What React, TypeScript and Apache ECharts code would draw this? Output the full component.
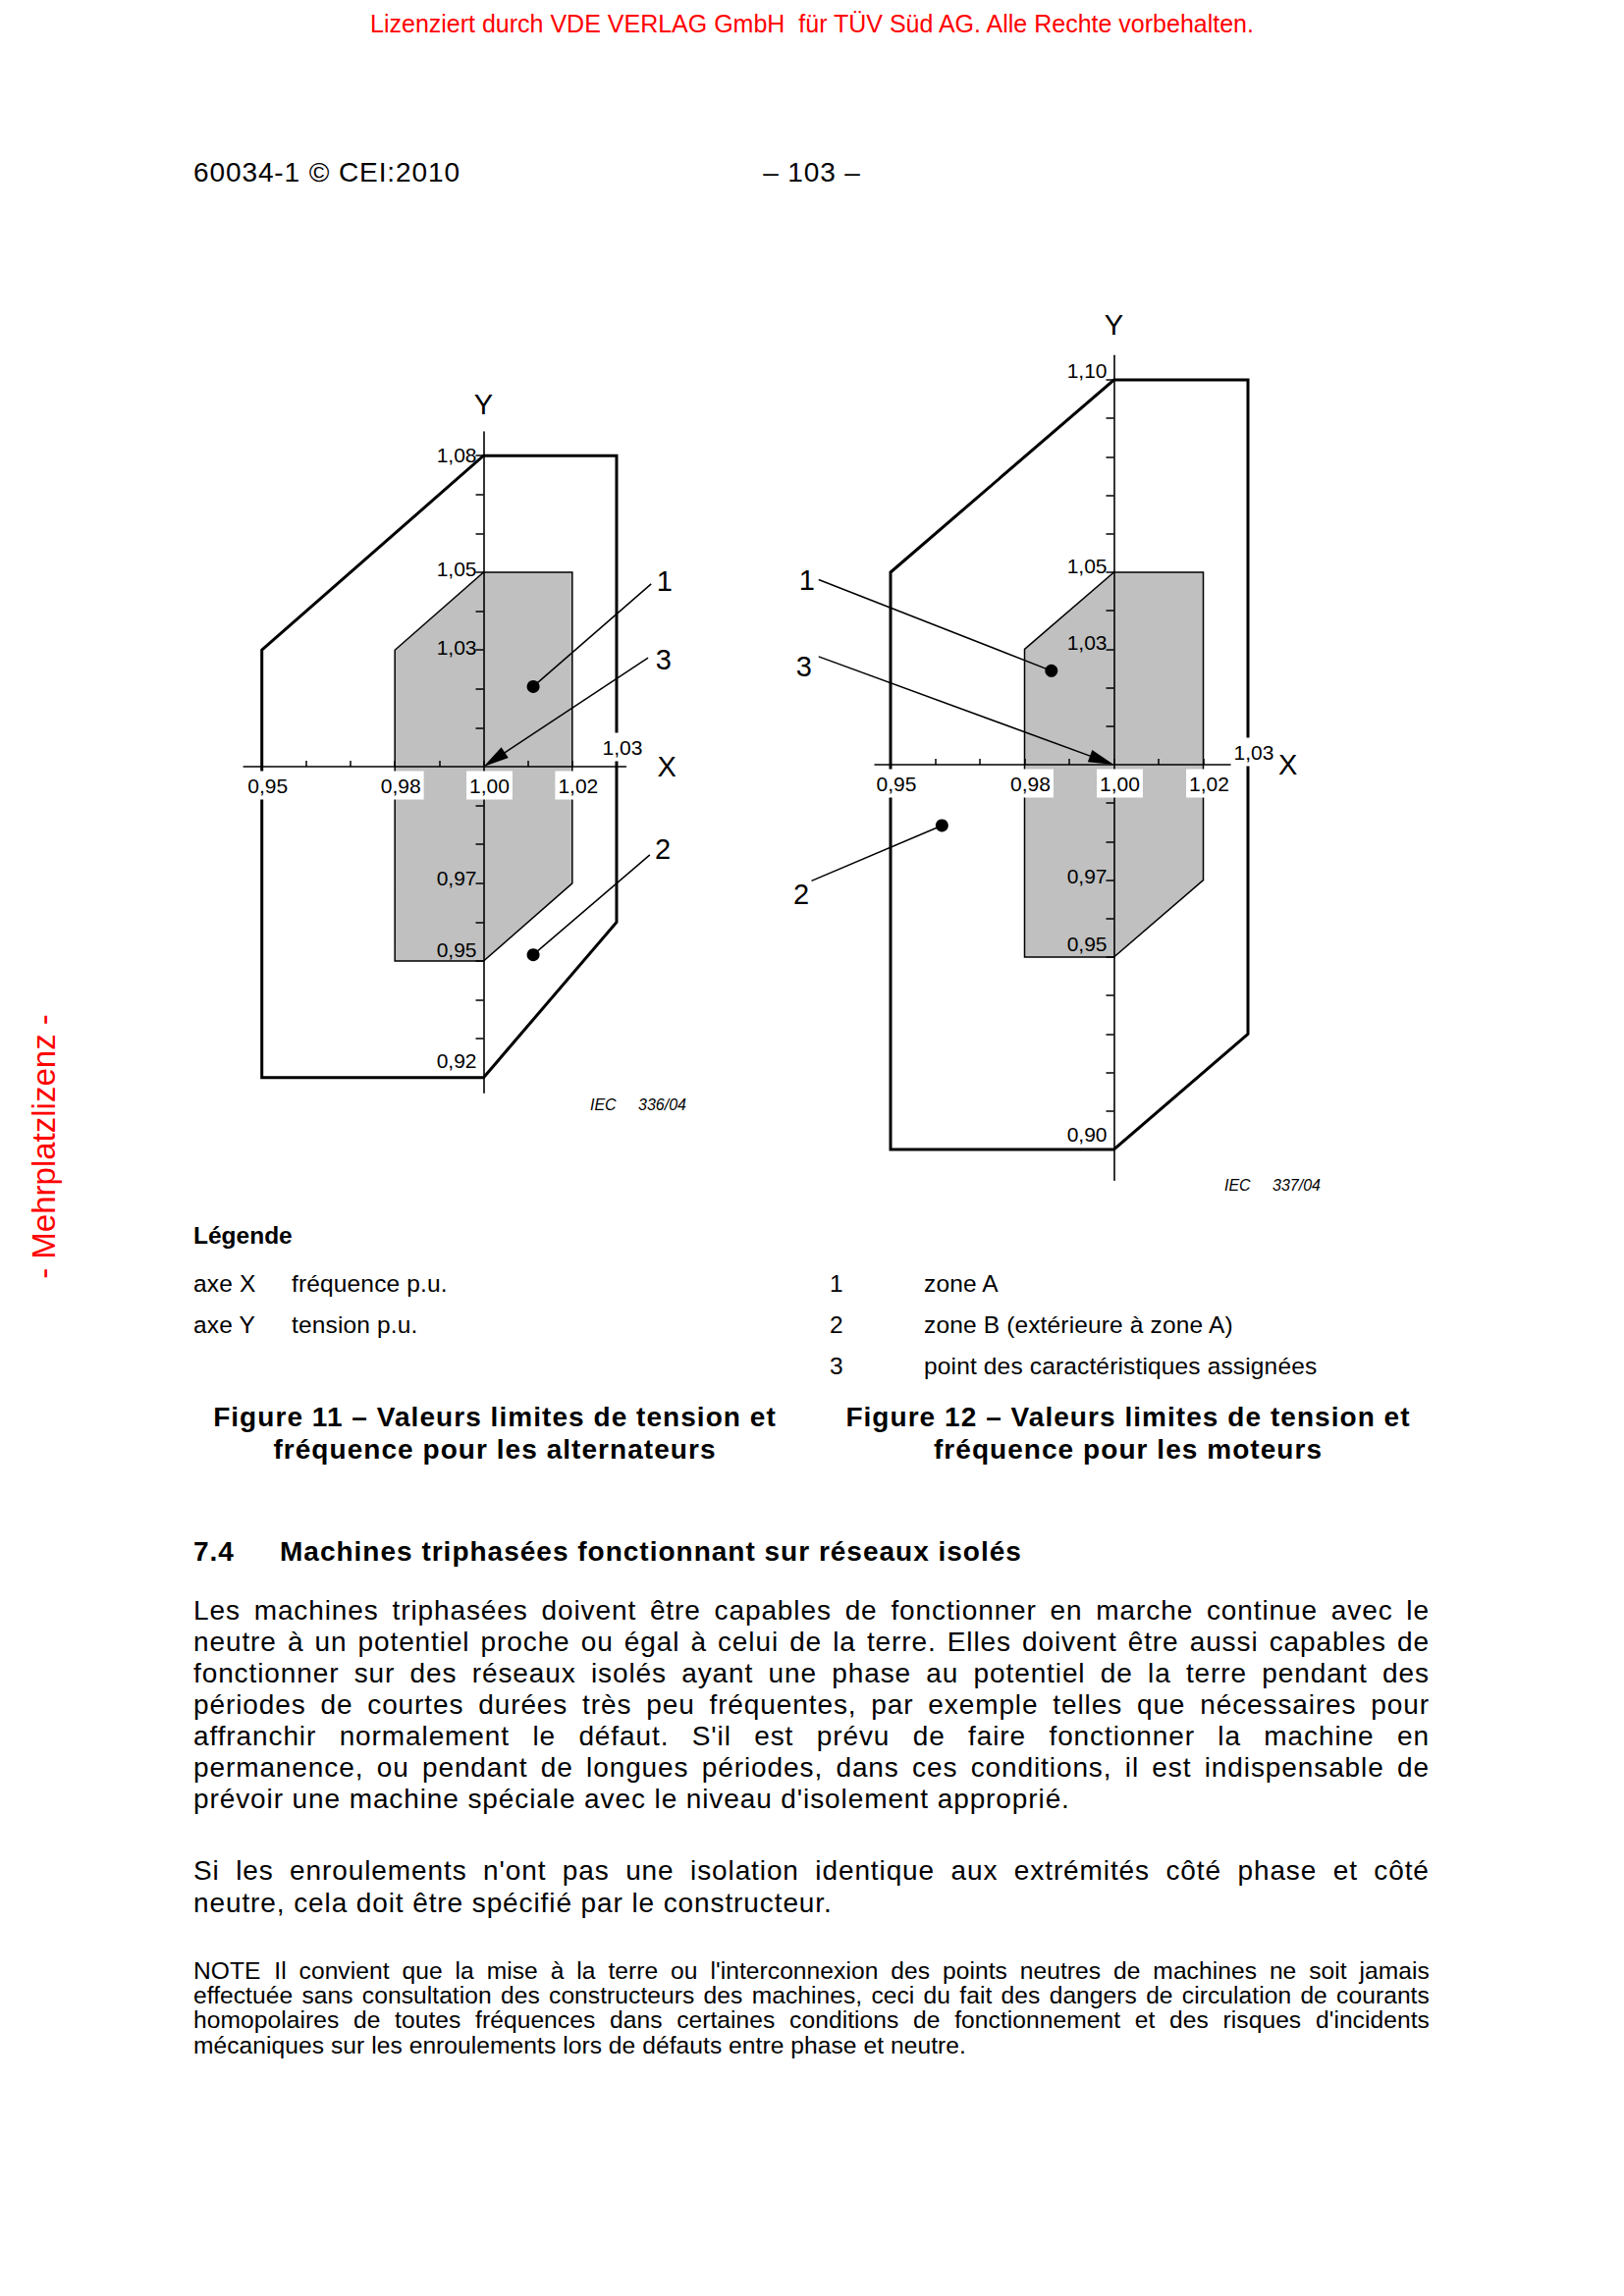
import React, { useEffect, useRef } from 'react';
import * as echarts from 'echarts';

// ---------------- Figure 11 : alternateurs ----------------
const fig11ZoneB: number[][] = [[0.95, 1.03], [1.0, 1.08], [1.03, 1.08], [1.03, 0.96], [1.0, 0.92], [0.95, 0.92]];
const fig11ZoneA: number[][] = [[0.98, 1.03], [1.0, 1.05], [1.02, 1.05], [1.02, 0.97], [1.0, 0.95], [0.98, 0.95]];
const fig11XRange = [0.9459, 1.0321];
const fig11YRange = [0.9161, 1.0861];
const fig11XTicks = [0.95, 0.96, 0.97, 0.98, 0.99, 1.0, 1.01, 1.02, 1.03];
const fig11XLabels = [0.95, 0.98, 1.0, 1.02];
const fig11XLabelsTop = [1.03];
const fig11YTicks = [0.92, 0.93, 0.94, 0.95, 0.96, 0.97, 0.98, 0.99, 1.01, 1.02, 1.03, 1.04, 1.05, 1.06, 1.07, 1.08];
const fig11YLabels = [1.08, 1.05, 1.03, 0.97, 0.95, 0.92];
// [labelX, labelY, lineStartX, lineStartY, targetX, targetY, kind (0 dot / 1 arrow), number]
const fig11Callouts: number[][] = [
  [1.0408, 1.0478, 1.0378, 1.047, 1.0112, 1.0206, 0, 1],
  [1.0406, 1.0276, 1.0371, 1.028, 1.0, 1.0, 1, 3],
  [1.0404, 0.9788, 1.0375, 0.9773, 1.0112, 0.9516, 0, 2],
];

// ---------------- Figure 12 : moteurs ----------------
const fig12ZoneB: number[][] = [[0.95, 1.05], [1.0, 1.1], [1.03, 1.1], [1.03, 0.93], [1.0, 0.9], [0.95, 0.9]];
const fig12ZoneA: number[][] = [[0.98, 1.03], [1.0, 1.05], [1.02, 1.05], [1.02, 0.97], [1.0, 0.95], [0.98, 0.95]];
const fig12XRange = [0.9465, 1.0353];
const fig12YRange = [0.892, 1.1063];
const fig12XTicks = [0.95, 0.96, 0.97, 0.98, 0.99, 1.0, 1.01, 1.02, 1.03];
const fig12XLabels = [0.95, 0.98, 1.0, 1.02];
const fig12XLabelsTop = [1.03];
const fig12YTicks = [0.9, 0.91, 0.92, 0.93, 0.94, 0.95, 0.96, 0.97, 0.98, 0.99, 1.01, 1.02, 1.03, 1.04, 1.05, 1.06, 1.07, 1.08, 1.09, 1.1];
const fig12YLabels = [1.1, 1.05, 1.03, 0.97, 0.95, 0.9];
const fig12Callouts: number[][] = [
  [0.9313, 1.048, 0.9339, 1.0481, 0.986, 1.0244, 0, 1],
  [0.9306, 1.0254, 0.9339, 1.0281, 1.0, 1.0, 1, 3],
  [0.93, 0.9663, 0.9323, 0.9698, 0.9615, 0.9842, 0, 2],
];

// ---------------- layout / style (not data) ----------------
const FONT = 'Liberation Sans';
const FONT_CSS = "'Liberation Sans', Arial, Helvetica, sans-serif";
const L11 = { ox: 492.5, oy: 781, sx: 4516, sy: 3960, xNameGap: 32, yNameGap: 14, topMargin: 8, yLift: [1, 4, 3, 5, 12, 17] };
const L12 = { ox: 1134.5, oy: 779, sx: 4550, sy: 3920, xNameGap: 7, yNameGap: 17, topMargin: 1, yLift: [10, 7, 7, 4, 14, 16] };

const fmt = (v: number) => Number(v).toFixed(2).replace('.', ',');

function buildFigure(idx: number, L: any, xr: number[], yr: number[], xTicks: number[], xLabels: number[], xTop: number[], yTicks: number[], yLabels: number[], zoneB: number[][], zoneA: number[][], callouts: number[][]) {
  const left = L.ox - (1 - xr[0]) * L.sx;
  const width = (xr[1] - xr[0]) * L.sx;
  const top = L.oy - (yr[1] - 1) * L.sy;
  const height = (yr[1] - yr[0]) * L.sy;
  const grid = { left, top, width, height, containLabel: false, outerBoundsMode: 'none' };
  const lineStyle = { color: '#000', width: 1.6 };
  const xRich = {
    s: { width: 12, fontSize: 21, fontFamily: FONT },
    a: { fontSize: 21, fontFamily: FONT, color: '#000', backgroundColor: '#fff', padding: [4, 3, 4, 3], lineHeight: 24 },
  };
  const yRich: any = {};
  L.yLift.forEach((lift: number) => {
    yRich['u' + lift] = { fontSize: 21, fontFamily: FONT, color: '#000', padding: [0, 0, 2 * lift, 0], lineHeight: 24 };
  });
  const xBottom = {
    type: 'value', gridIndex: idx, min: xr[0], max: xr[1], position: 'bottom',
    offset: -((1 - yr[0]) * L.sy), z: 6,
    name: 'X', nameLocation: 'end', nameGap: L.xNameGap, nameMoveOverlap: false,
    nameTextStyle: { fontSize: 29, fontFamily: FONT, color: '#000', padding: [14, 0, 0, 0] },
    axisLine: { show: true, onZero: false, lineStyle },
    axisTick: { show: true, inside: true, length: 6, customValues: xTicks, lineStyle: { color: '#000', width: 1.5 } },
    axisLabel: { show: true, customValues: xLabels, margin: 7, formatter: (v: number) => `{s| }{a|${fmt(v)}}`, rich: xRich },
    splitLine: { show: false },
  };
  const xTopAxis = {
    type: 'value', gridIndex: idx, min: xr[0], max: xr[1], position: 'top',
    offset: -((yr[1] - 1) * L.sy), z: 6,
    axisLine: { show: false, onZero: false },
    axisTick: { show: false },
    axisLabel: { show: true, customValues: xTop, margin: L.topMargin, formatter: (v: number) => `{s| }{a|${fmt(v)}}`, rich: xRich },
    splitLine: { show: false },
  };
  const yAxis = {
    type: 'value', gridIndex: idx, min: yr[0], max: yr[1], position: 'left',
    offset: -((1 - xr[0]) * L.sx), z: 5,
    name: 'Y', nameLocation: 'end', nameGap: L.yNameGap, nameMoveOverlap: false,
    nameTextStyle: { fontSize: 29, fontFamily: FONT, color: '#000' },
    axisLine: { show: true, onZero: false, lineStyle },
    axisTick: { show: true, inside: false, length: 8, customValues: yTicks, lineStyle: { color: '#000', width: 1.5 } },
    axisLabel: {
      show: true, customValues: yLabels, margin: 7,
      formatter: (v: number) => {
        let i = yLabels.findIndex((y) => Math.abs(y - v) < 1e-6);
        if (i < 0) i = 0;
        return `{u${L.yLift[i]}|${fmt(v)}}`;
      },
      rich: yRich,
    },
    splitLine: { show: false },
  };

  const xi = idx * 2;
  const yi = idx;
  const zone = (pts: number[][], style: any, z: number) => ({
    type: 'custom', xAxisIndex: xi, yAxisIndex: yi, z, silent: true, clip: false,
    data: pts, encode: { x: 0, y: 1 },
    renderItem: (params: any, api: any) => {
      if (params.dataIndex !== 0) return null;
      return { type: 'polygon', shape: { points: pts.map((p) => api.coord(p)) }, style };
    },
  });
  const calloutSeries = {
    type: 'custom', xAxisIndex: xi, yAxisIndex: yi, z: 4, silent: true, clip: false,
    data: callouts, encode: { x: [0, 2, 4], y: [1, 3, 5] },
    renderItem: (params: any, api: any) => {
      const lab = api.coord([api.value(0), api.value(1)]);
      const p0 = api.coord([api.value(2), api.value(3)]);
      const p1 = api.coord([api.value(4), api.value(5)]);
      const kind = api.value(6);
      const num = api.value(7);
      const children: any[] = [
        { type: 'text', x: lab[0], y: lab[1], style: { text: String(num), fontSize: 29, fontFamily: FONT, fill: '#000', align: 'center', verticalAlign: 'middle' } },
      ];
      if (kind === 1) {
        const dx = p1[0] - p0[0];
        const dy = p1[1] - p0[1];
        const len = Math.hypot(dx, dy);
        const ux = dx / len;
        const uy = dy / len;
        const AL = 26;
        const AW = 6.5;
        const bx = p1[0] - ux * AL;
        const by = p1[1] - uy * AL;
        children.push({ type: 'line', shape: { x1: p0[0], y1: p0[1], x2: bx + ux * 3, y2: by + uy * 3 }, style: { stroke: '#000', lineWidth: 1.5 } });
        children.push({ type: 'polygon', shape: { points: [[p1[0], p1[1]], [bx - uy * AW, by + ux * AW], [bx + uy * AW, by - ux * AW]] }, style: { fill: '#000' } });
      } else {
        children.push({ type: 'line', shape: { x1: p0[0], y1: p0[1], x2: p1[0], y2: p1[1] }, style: { stroke: '#000', lineWidth: 1.5 } });
        children.push({ type: 'circle', shape: { cx: p1[0], cy: p1[1], r: 6.5 }, style: { fill: '#000' } });
      }
      return { type: 'group', children };
    },
  };
  const series = [
    zone(zoneB, { fill: 'none', stroke: '#000', lineWidth: 3, lineJoin: 'miter' }, 2),
    zone(zoneA, { fill: '#c0c0c0', stroke: '#000', lineWidth: 1.5, lineJoin: 'miter' }, 3),
    calloutSeries,
  ];
  return { grid, xAxes: [xBottom, xTopAxis], yAxis, series };
}

function buildOption() {
  const f11 = buildFigure(0, L11, fig11XRange, fig11YRange, fig11XTicks, fig11XLabels, fig11XLabelsTop, fig11YTicks, fig11YLabels, fig11ZoneB, fig11ZoneA, fig11Callouts);
  const f12 = buildFigure(1, L12, fig12XRange, fig12YRange, fig12XTicks, fig12XLabels, fig12XLabelsTop, fig12YTicks, fig12YLabels, fig12ZoneB, fig12ZoneA, fig12Callouts);
  const iec = (x: number, y: number, text: string) => ({
    type: 'text', x, y, silent: true,
    style: { text, fontSize: 16, fontStyle: 'italic', fontFamily: FONT, fill: '#000', verticalAlign: 'middle' },
  });
  return {
    animation: false,
    backgroundColor: 'transparent',
    grid: [f11.grid, f12.grid],
    xAxis: [...f11.xAxes, ...f12.xAxes],
    yAxis: [f11.yAxis, f12.yAxis],
    series: [...f11.series, ...f12.series],
    graphic: [
      iec(601, 1125, 'IEC'),
      iec(650, 1125, '336/04'),
      iec(1247, 1207, 'IEC'),
      iec(1296, 1207, '337/04'),
    ],
  };
}

// ---------------- page text ----------------
type Line = { text: string; x: number; cy: number; w?: number; size: number; lh: number; bold?: boolean; ls?: number; justify?: boolean; align?: 'left' | 'center'; color?: string };

const para1 = [
  'Les machines triphasées doivent être capables de fonctionner en marche continue avec le',
  'neutre à un potentiel proche ou égal à celui de la terre. Elles doivent être aussi capables de',
  'fonctionner sur des réseaux isolés ayant une phase au potentiel de la terre pendant des',
  'périodes de courtes durées très peu fréquentes, par exemple telles que nécessaires pour',
  "affranchir normalement le défaut. S'il est prévu de faire fonctionner la machine en",
  'permanence, ou pendant de longues périodes, dans ces conditions, il est indispensable de',
  "prévoir une machine spéciale avec le niveau d'isolement approprié.",
];
const para2 = [
  "Si les enroulements n'ont pas une isolation identique aux extrémités côté phase et côté",
  'neutre, cela doit être spécifié par le constructeur.',
];
const note = [
  "NOTE\u00a0\u00a0Il convient que la mise à la terre ou l'interconnexion des points neutres de machines ne soit jamais",
  'effectuée sans consultation des constructeurs des machines, ceci du fait des dangers de circulation de courants',
  "homopolaires de toutes fréquences dans certaines conditions de fonctionnement et des risques d'incidents",
  'mécaniques sur les enroulements lors de défauts entre phase et neutre.',
];

function buildLines(): Line[] {
  const lines: Line[] = [];
  const centered = (text: string, cx: number, cy: number, size: number, bold: boolean, ls: number, color = '#000') =>
    lines.push({ text, x: cx - 500, w: 1000, cy, size, lh: size + 6, bold, ls, align: 'center', color });
  centered('Lizenziert durch VDE VERLAG GmbH  für TÜV Süd AG. Alle Rechte vorbehalten.', 827, 24, 25, false, 0, '#ff0000');
  lines.push({ text: '60034-1 © CEI:2010', x: 197, cy: 176, size: 28, lh: 32, ls: 0.9 });
  centered('– 103 –', 827, 176, 28, false, 0.9);
  lines.push({ text: 'Légende', x: 197, cy: 1259, size: 24.5, lh: 30, bold: true });
  const leg = (t: string, x: number, cy: number) => lines.push({ text: t, x, cy, size: 24.5, lh: 30, ls: 0.15 });
  leg('axe X', 197, 1308); leg('fréquence p.u.', 297, 1308);
  leg('axe Y', 197, 1350); leg('tension p.u.', 297, 1350);
  leg('1', 845, 1308); leg('zone A', 941, 1308);
  leg('2', 845, 1350); leg('zone B (extérieure à zone A)', 941, 1350);
  leg('3', 845, 1392); leg('point des caractéristiques assignées', 941, 1392);
  centered('Figure 11 – Valeurs limites de tension et', 504, 1444, 28, true, 1.05);
  centered('fréquence pour les alternateurs', 504, 1477, 28, true, 1.05);
  centered('Figure 12 – Valeurs limites de tension et', 1149, 1444, 28, true, 1.05);
  centered('fréquence pour les moteurs', 1149, 1477, 28, true, 1.05);
  lines.push({ text: '7.4', x: 197, cy: 1581, size: 28, lh: 32, bold: true, ls: 0.9 });
  lines.push({ text: 'Machines triphasées fonctionnant sur réseaux isolés', x: 285, cy: 1581, size: 28, lh: 32, bold: true, ls: 1.0 });
  para1.forEach((t, i) => lines.push({ text: t, x: 197, w: 1259, cy: 1640.7 + i * 32.07, size: 28, lh: 32, ls: 0.9, justify: i < para1.length - 1 }));
  para2.forEach((t, i) => lines.push({ text: t, x: 197, w: 1259, cy: 1906 + i * 33, size: 28, lh: 32, ls: 0.9, justify: i < para2.length - 1 }));
  note.forEach((t, i) => lines.push({ text: t, x: 197, w: 1259, cy: 2007.6 + i * 25.3, size: 24.6, lh: 26, ls: 0.05, justify: i < note.length - 1 }));
  return lines;
}

function TextLine({ spec }: { spec: Line }) {
  const { text, x, cy, w, size, lh, bold, ls = 0, justify, align = 'left', color = '#000' } = spec;
  const style: React.CSSProperties = {
    position: 'absolute', left: x, top: cy - lh / 2, width: w, height: lh, lineHeight: `${lh}px`,
    fontSize: size, fontFamily: FONT_CSS, fontWeight: bold ? 700 : 400, letterSpacing: ls, color,
    whiteSpace: 'pre', textAlign: align, margin: 0, padding: 0,
  };
  if (justify) {
    return (
      <div style={{ ...style, display: 'flex', justifyContent: 'space-between' }}>
        {text.split(' ').map((word, i) => <span key={i}>{word}</span>)}
      </div>
    );
  }
  return <div style={style}>{text}</div>;
}

export default function App() {
  const ref = useRef<HTMLDivElement>(null);
  useEffect(() => {
    if (!ref.current) return;
    const chart = echarts.init(ref.current, null, { renderer: 'svg' });
    chart.setOption(buildOption() as any);
    return () => chart.dispose();
  }, []);
  const lines = buildLines();
  return (
    <div style={{ position: 'absolute', left: 0, top: 0, width: 1654, height: 2339, background: '#fff', overflow: 'hidden' }}>
      <div ref={ref} style={{ position: 'absolute', left: 0, top: 0, width: 1654, height: 2339 }} />
      {lines.map((l, i) => <TextLine key={i} spec={l} />)}
      <div
        style={{
          position: 'absolute', left: 45, top: 1168, transform: 'translate(-50%, -50%) rotate(-90deg)',
          fontSize: 33, fontFamily: FONT_CSS, color: '#ff0000', whiteSpace: 'pre', lineHeight: '38px',
        }}
      >
        - Mehrplatzlizenz -
      </div>
    </div>
  );
}
